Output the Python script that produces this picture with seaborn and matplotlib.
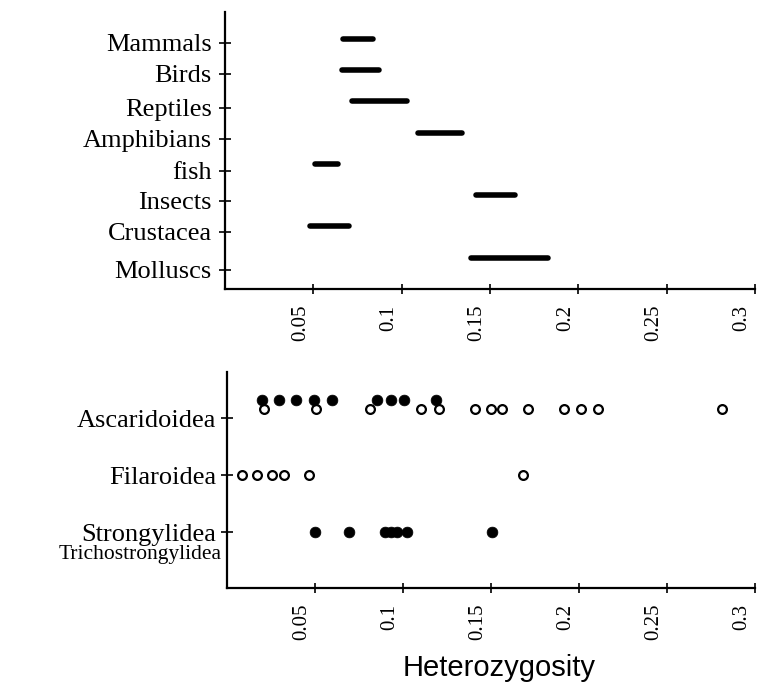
import numpy as np
import pandas as pd
import matplotlib
matplotlib.use("Agg")
import matplotlib.pyplot as plt
import matplotlib.transforms as mtransforms
import seaborn as sns

# ---------------- data ----------------
taxa = ["Mammals", "Birds", "Reptiles", "Amphibians", "fish",
        "Insects", "Crustacea", "Molluscs"]
range_low = [0.067, 0.066, 0.072, 0.109, 0.051, 0.142, 0.048, 0.139]
range_high = [0.084, 0.087, 0.103, 0.134, 0.064, 0.164, 0.070, 0.183]

nematode_groups = ["Ascaridoidea", "Filaroidea", "Strongylidea\nTrichostrongylidea"]
asc_filled = [0.020, 0.0295, 0.039, 0.0495, 0.0595, 0.085, 0.093, 0.1005, 0.119]
asc_open = [0.021, 0.0505, 0.081, 0.1105, 0.1205, 0.141, 0.150, 0.156,
            0.171, 0.1915, 0.201, 0.211, 0.2815]
fil_open = [0.0087, 0.0172, 0.0257, 0.0322, 0.0468, 0.1684]
str_filled = [0.050, 0.0695, 0.0898, 0.093, 0.0964, 0.1021, 0.1504]

x_ticks = [0.05, 0.1, 0.15, 0.2, 0.25, 0.3]
x_ticklabels = ["0.05", "0.1", "0.15", "0.2", "0.25", "0.3"]
x_label = "Heterozygosity"

# ---------------- layout / style ----------------
sns.set_style("white")
plt.rcParams["font.family"] = ["Liberation Serif", "DejaVu Serif"]
for k in ("text.color", "axes.labelcolor", "xtick.color", "ytick.color"):
    plt.rcParams[k] = "black"
DPI = 100
W, H = 758, 683
fig = plt.figure(figsize=(W / DPI, H / DPI), dpi=DPI)
ax1 = fig.add_axes([225 / W, 1 - 289 / H, 530 / W, 277 / H])
ax2 = fig.add_axes([227 / W, 1 - 588 / H, 528 / W, 216 / H])

LABEL_FS = 19
TICK_FS = 15

# ---------------- top panel: ranges ----------------
top_rows = []
for i, (t, lo, hi) in enumerate(zip(taxa, range_low, range_high)):
    top_rows.append({"taxon": t, "value": lo, "pos": i})
    top_rows.append({"taxon": t, "value": hi, "pos": i})
top_df = pd.DataFrame(top_rows)
sns.lineplot(data=top_df, x="value", y="pos", units="taxon", estimator=None,
             sort=False, color="black", linewidth=4.0, solid_capstyle="round",
             ax=ax1, legend=False)
tick_offsets = [0.13, 0.12, 0.2, 0.19, 0.22, 0.18, 0.17, 0.38]
ax1.set_yticks([i + o for i, o in enumerate(tick_offsets)])
ax1.set_yticklabels(taxa, fontsize=LABEL_FS)
ax1.set_ylim(8.0, -0.86)

# ---------------- bottom panel: points ----------------
pts = []
for v in asc_filled:
    pts.append({"group": nematode_groups[0], "value": v, "kind": "filled"})
for v in asc_open:
    pts.append({"group": nematode_groups[0], "value": v, "kind": "open"})
for v in fil_open:
    pts.append({"group": nematode_groups[1], "value": v, "kind": "open"})
for v in str_filled:
    pts.append({"group": nematode_groups[2], "value": v, "kind": "filled"})
pts_df = pd.DataFrame(pts)
row_shift = {(nematode_groups[0], "filled"): -0.316,
             (nematode_groups[0], "open"): -0.158}
pts_df["pos"] = [nematode_groups.index(g) + row_shift.get((g, k), 0.0)
                 for g, k in zip(pts_df["group"], pts_df["kind"])]

filled = pts_df[pts_df["kind"] == "filled"]
opened = pts_df[pts_df["kind"] == "open"]
sns.scatterplot(data=filled, x="value", y="pos", color="black",
                edgecolor="black", s=60, linewidth=0.5, ax=ax2, legend=False,
                zorder=3)
sns.scatterplot(data=opened, x="value", y="pos", color="white",
                edgecolor="black", s=40, linewidth=1.6, ax=ax2, legend=False,
                zorder=2)
ax2.set_yticks(range(len(nematode_groups)))
first_lines = [g.split("\n")[0] for g in nematode_groups]
ax2.set_yticklabels(first_lines, fontsize=LABEL_FS)
ax2.set_ylim(2.98, -0.81)
# second line of the last group label, set a little smaller as in the source
second = nematode_groups[2].split("\n")[1]
trans2 = (mtransforms.blended_transform_factory(ax2.transAxes, ax2.transData)
          + mtransforms.ScaledTranslation(-5 / DPI, -20 / DPI, fig.dpi_scale_trans))
ax2.text(0, 2, second, transform=trans2, ha="right", va="center_baseline",
         fontsize=15.5, clip_on=False)

# ---------------- common axis styling ----------------
for ax in (ax1, ax2):
    ax.set_xlim(0, 0.3)
    ax.set_xticks(x_ticks)
    ax.set_xticklabels(x_ticklabels, rotation=90, fontsize=TICK_FS)
    ax.set_xlabel("")
    ax.set_ylabel("")
    for side in ("top", "right"):
        ax.spines[side].set_visible(False)
    for side in ("left", "bottom"):
        ax.spines[side].set_linewidth(1.6)
        ax.spines[side].set_color("black")
    ax.tick_params(axis="x", direction="inout", length=7, width=1.2,
                   color="black", pad=8, bottom=True)
    ax.tick_params(axis="y", direction="inout", length=9, width=1.2,
                   color="black", pad=5, left=True)
    shift = mtransforms.ScaledTranslation(-13 / DPI, 0, fig.dpi_scale_trans)
    for lab in ax.get_xticklabels():
        lab.set_transform(lab.get_transform() + shift)

ax2.tick_params(axis="y", pad=3)

fig.text(499 / W, 1 - 668 / H, x_label, ha="center", va="center",
         fontsize=21, family=["Liberation Sans", "DejaVu Sans"])

fig.savefig("out.png", dpi=DPI)
